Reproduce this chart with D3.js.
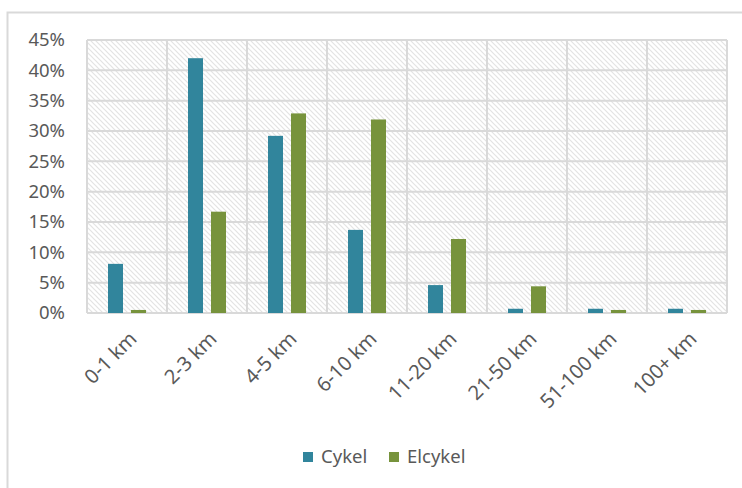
<!DOCTYPE html>
<html>
<head>
<meta charset="utf-8">
<script src="https://cdn.jsdelivr.net/npm/d3@7"></script>
<style>
  body { margin: 0; background: #fff; }
  text { font-family: "Noto Sans", sans-serif; fill: #595959; }
</style>
</head>
<body>
<div id="chart"></div>
<script>
(function() {
const width = 742,
      height = 488

const categories = ['0-1 km', '2-3 km', '4-5 km', '6-10 km', '11-20 km', '21-50 km', '51-100 km', '100+ km']
const seriesNames = ['Cykel', 'Elcykel']
const cykel   = [0.081, 0.420, 0.292, 0.137, 0.046, 0.007, 0.007, 0.007]
const elcykel = [0.005, 0.167, 0.329, 0.319, 0.122, 0.044, 0.005, 0.005]
const yTicks = [0, 0.05, 0.10, 0.15, 0.20, 0.25, 0.30, 0.35, 0.40, 0.45]
const colors = ['#31859c', '#77933c']

const margin = {top: 40, left: 87, right: 15, bottom: 175}

const svg = d3.select('#chart')
  .append('svg')
  .attr('width', width)
  .attr('height', height)

// outer chart frame (top + left edges visible)
svg.append('path')
  .attr('d', 'M7.5,' + height + 'V12.5H' + width)
  .attr('fill', 'none')
  .attr('stroke', '#d9d9d9')
  .attr('stroke-width', 2)

const defs = svg.append('defs')
const pat = defs.append('pattern')
  .attr('id', 'hatch')
  .attr('patternUnits', 'userSpaceOnUse')
  .attr('width', 5)
  .attr('height', 5)
pat.append('rect').attr('width', 5).attr('height', 5).attr('fill', '#fff')
pat.append('path')
  .attr('d', 'M0,0L5,5M-2.5,2.5L2.5,7.5M2.5,-2.5L7.5,2.5')
  .attr('stroke', '#e3e3e3')
  .attr('stroke-width', 1.2)

const x0 = d3.scaleBand()
  .domain(categories)
  .range([margin.left, width - margin.right])

const x1 = d3.scaleBand()
  .domain(seriesNames)
  .range([0, x0.bandwidth()])
  .paddingInner(0.348)
  .paddingOuter(0.913)

const y = d3.scaleLinear()
  .domain([0, 0.45])
  .range([height - margin.bottom, margin.top])

const plot = svg.append('g')

plot.append('rect')
  .attr('x', x0.range()[0])
  .attr('y', y(0.45))
  .attr('width', x0.range()[1] - x0.range()[0])
  .attr('height', y(0) - y(0.45))
  .attr('fill', 'url(#hatch)')

// horizontal gridlines
plot.selectAll('.hgrid')
  .data(yTicks)
  .enter().append('line')
  .attr('class', 'hgrid')
  .attr('x1', x0.range()[0])
  .attr('x2', x0.range()[1])
  .attr('y1', function(d) { return y(d) })
  .attr('y2', function(d) { return y(d) })
  .attr('stroke', '#d9d9d9')
  .attr('stroke-width', 2)

// vertical gridlines at category boundaries
const bounds = categories.map(function(c) { return x0(c) }).concat([x0.range()[1]])
plot.selectAll('.vgrid')
  .data(bounds)
  .enter().append('line')
  .attr('class', 'vgrid')
  .attr('x1', function(d) { return d })
  .attr('x2', function(d) { return d })
  .attr('y1', y(0.45))
  .attr('y2', y(0))
  .attr('stroke', '#d9d9d9')
  .attr('stroke-width', 2)

// y axis labels
const yAxis = svg.append('g')
  .attr('transform', 'translate(' + (margin.left - 22) + ',0)')
  .call(d3.axisLeft(y).tickValues(yTicks).tickSize(0).tickPadding(0).tickFormat(d3.format('.0%')))
yAxis.select('.domain').remove()
yAxis.selectAll('text')
  .style('font-size', '18.5px')
  .style('font-family', '"Noto Sans", sans-serif')
  .attr('fill', '#595959')

// bars
const rows = categories.map(function(c, i) {
  return {cat: c, vals: [{s: 'Cykel', v: cykel[i]}, {s: 'Elcykel', v: elcykel[i]}]}
})

const groups = svg.selectAll('.grp')
  .data(rows)
  .enter().append('g')
  .attr('class', 'grp')
  .attr('transform', function(d) { return 'translate(' + x0(d.cat) + ',0)' })

groups.selectAll('rect')
  .data(function(d) { return d.vals })
  .enter().append('rect')
  .attr('x', function(d) { return x1(d.s) })
  .attr('width', x1.bandwidth())
  .attr('y', function(d) { return y(d.v) })
  .attr('height', function(d) { return y(0) - y(d.v) })
  .attr('fill', function(d, i) { return colors[i] })

// x axis labels, rotated
const xAxis = svg.append('g')
  .attr('transform', 'translate(6,' + (y(0) + 22) + ')')
  .call(d3.axisBottom(x0).tickSize(0).tickPadding(0))
xAxis.select('.domain').remove()
xAxis.selectAll('text')
  .style('font-size', '20px')
  .style('font-family', '"Noto Sans", sans-serif')
  .attr('fill', '#595959')
  .attr('text-anchor', 'end')
  .attr('dy', '0.35em')
  .attr('transform', 'rotate(-45)')

// legend
const legend = svg.append('g')
  .attr('transform', 'translate(303,457)')
const items = legend.selectAll('g')
  .data(seriesNames)
  .enter().append('g')
  .attr('transform', function(d, i) { return 'translate(' + (i * 86) + ',0)' })
items.append('rect')
  .attr('x', 0)
  .attr('y', -5)
  .attr('width', 10)
  .attr('height', 10)
  .attr('fill', function(d, i) { return colors[i] })
items.append('text')
  .attr('x', 18)
  .attr('y', 0)
  .attr('dy', '0.35em')
  .style('font-size', '18.5px')
  .text(function(d) { return d })

})()
</script>
</body>
</html>
